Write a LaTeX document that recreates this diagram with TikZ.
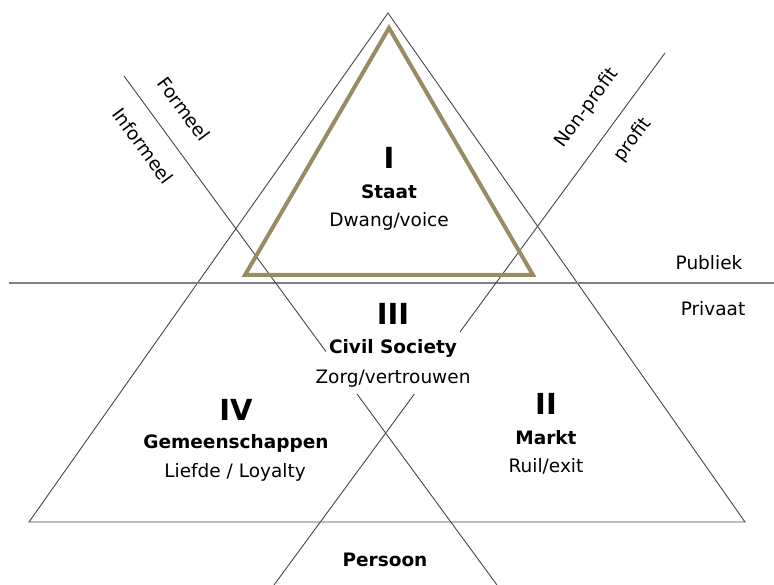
\documentclass[tikz,border=0pt]{standalone}
\usepackage{fontspec}
\setmainfont{DejaVu Sans}
\usetikzlibrary{positioning,calc}
\definecolor{goud}{RGB}{152,141,98}
\definecolor{lijn}{RGB}{70,70,70}

\begin{document}
\begin{tikzpicture}[x=1pt, y=-1pt,
  dun/.style={draw=lijn, line width=0.9pt},
  nummer/.style={font=\fontsize{29}{29}\selectfont\bfseries, inner sep=1pt},
  titel/.style={font=\fontsize{18.5}{20}\selectfont\bfseries, inner sep=1pt},
  waarde/.style={font=\fontsize{18.5}{20}\selectfont, inner sep=1pt},
  zijde/.style={font=\fontsize{18.5}{20}\selectfont, inner sep=1pt}
]

\useasboundingbox (0,0) rectangle (774,585);

% Big triangle
\coordinate (top) at (388,13);
\coordinate (linksonder) at (29,522);
\coordinate (rechtsonder) at (745,522);
\draw[dun] (top) -- (linksonder) -- (rechtsonder) -- cycle;

% Publiek / Privaat divide
\draw[draw=gray, line width=1.2pt] (9,283) -- (774,283);

% Formeel / Informeel divide
\coordinate (formeelA) at (124,76);
\coordinate (formeelB) at (497,585);
\draw[dun] (formeelA) -- (formeelB);

% Non-profit / profit divide
\coordinate (profitA) at (665,53);
\coordinate (profitB) at (274,585);
\draw[dun] (profitA) -- (profitB);

% The State (gold triangle)
\draw[goud, line width=4pt, line join=miter] (389,28) -- (245,275) -- (533,275) -- cycle;

% I: Staat
\node[nummer] (staatnr) at (389,158) {I};
\node[titel] (staat) at (389,192) {Staat};
\node[waarde] (dwang) at (389,221) {Dwang/voice};

% III: Civil Society
\node[nummer] (civilnr) at (393,314) {III};
\node[titel, fill=white, inner xsep=3pt, inner ysep=9pt] (civil) at (393,348) {Civil Society};
\node[waarde, fill=white, inner xsep=2pt, inner ysep=6pt] (zorg) at (393,379) {Zorg/vertrouwen};

% IV: Gemeenschappen
\node[nummer] (gemeennr) at (236,410) {IV};
\node[titel] (gemeen) at (236,443) {Gemeenschappen};
\node[waarde] (liefde) at (235,472) {Liefde / Loyalty};

% II: Markt
\node[nummer] (marktnr) at (546,404) {II};
\node[titel] (markt) at (546,438) {Markt};
\node[waarde] (ruil) at (546,466) {Ruil/exit};

% Persoon
\node[titel] (persoon) at (385,560) {Persoon};

% Sides
\node[zijde] (publiek) at (709,263) {Publiek};
\node[zijde] (privaat) at (713,309) {Privaat};
\node[zijde, rotate=-53.6] (formeel) at (184,109) {Formeel};
\node[zijde, rotate=-53.6] (informeel) at (143,146) {Informeel};
\node[zijde, rotate=53.6] (nonprofit) at (587,108) {Non-profit};
\node[zijde, rotate=53.6] (profit) at (633,140) {profit};

\end{tikzpicture}
\end{document}
